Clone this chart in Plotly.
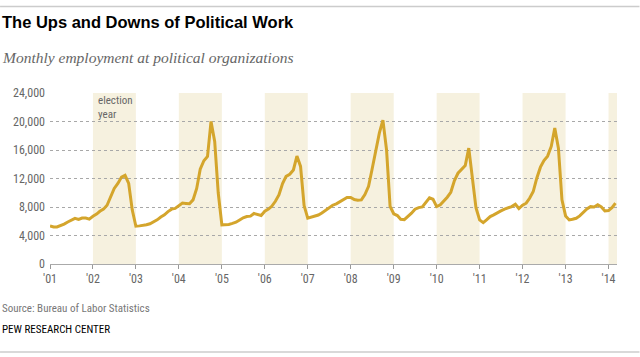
import pandas as pd
import plotly.graph_objects as go

# Monthly employment at political organizations (Jan 2001 - Mar 2014)
emp_2001 = [5350, 5200, 5200, 5350, 5600, 5900, 6150, 6400, 6250, 6450, 6450, 6300]
emp_2002 = [6700, 7000, 7400, 7700, 8250, 9400, 10600, 11300, 12200, 12450, 11300, 7600]
emp_2003 = [5300, 5350, 5400, 5500, 5650, 5900, 6200, 6600, 6900, 7350, 7700, 7800]
emp_2004 = [8150, 8550, 8500, 8450, 9000, 10600, 13300, 14500, 15100, 20000, 17200, 10000]
emp_2005 = [5500, 5520, 5560, 5700, 5860, 6180, 6490, 6660, 6720, 7090, 6950, 6800]
emp_2006 = [7400, 7700, 8100, 8800, 9700, 11300, 12300, 12600, 13200, 15150, 13700, 8200]
emp_2007 = [6430, 6600, 6780, 6870, 7170, 7520, 7850, 8250, 8450, 8750, 9050, 9350]
emp_2008 = [9350, 9050, 8950, 9000, 9750, 10900, 13300, 15800, 18400, 20200, 16000, 8100]
emp_2009 = [7050, 6800, 6280, 6230, 6660, 7130, 7690, 7920, 8010, 8620, 9280, 9090]
emp_2010 = [8060, 8300, 8760, 9370, 10070, 11710, 12740, 13310, 13830, 16260, 12300, 7900]
emp_2011 = [6200, 5810, 6190, 6660, 6890, 7220, 7450, 7690, 7870, 8060, 8390, 7780]
emp_2012 = [8250, 8530, 9230, 10170, 12040, 13590, 14530, 15140, 16500, 19070, 16260, 9000]
emp_2013 = [6750, 6190, 6280, 6420, 6750, 7220, 7730, 8050, 8000, 8300, 8000, 7450]
emp_2014 = [7500, 7950, 8550]

election_years = [2002, 2004, 2006, 2008, 2010, 2012, 2014]
tick_years = list(range(2001, 2015))
tick_labels = ["'01", "'02", "'03", "'04", "'05", "'06", "'07", "'08", "'09", "'10", "'11", "'12", "'13", "'14"]
y_ticks = [0, 4000, 8000, 12000, 16000, 20000, 24000]
y_tick_labels = ["0", "4,000", "8,000", "12,000", "16,000", "20,000", "24,000"]

values = (emp_2001 + emp_2002 + emp_2003 + emp_2004 + emp_2005 + emp_2006 + emp_2007
          + emp_2008 + emp_2009 + emp_2010 + emp_2011 + emp_2012 + emp_2013 + emp_2014)
dates = pd.date_range("2001-01-01", periods=len(values), freq="MS")

X_END = "2014-03-14"

W, H = 640, 357
ML, MR, MT, MB = 50, 22.5, 93, 93
PW = W - ML - MR
PH = H - MT - MB

def px(xp):
    return (xp - ML) / PW

def py(yp):
    return (H - MB - yp) / PH

LINE_COLOR = "#D4A52C"
SHADE = "#F6F1DF"
FONT = "Liberation Sans Narrow, Arial Narrow, Roboto Condensed, Liberation Sans, Arial, sans-serif"

fig = go.Figure()
fig.add_trace(go.Scatter(x=dates, y=values, mode="lines",
                         line=dict(color=LINE_COLOR, width=3), hoverinfo="skip"))

shapes = []
for yr in election_years:
    x1 = f"{yr + 1}-01-01" if yr < 2014 else X_END
    shapes.append(dict(type="rect", xref="x", yref="paper", x0=f"{yr}-01-01", x1=x1,
                       y0=0, y1=1, fillcolor=SHADE, line=dict(width=0), layer="below"))
# top and bottom rules
shapes.append(dict(type="line", xref="paper", yref="paper", x0=px(0), x1=px(W),
                   y0=py(6.5), y1=py(6.5), line=dict(color="#cccccc", width=1.5)))
shapes.append(dict(type="line", xref="paper", yref="paper", x0=px(0), x1=px(W),
                   y0=py(352), y1=py(352), line=dict(color="#cccccc", width=1.5)))

annotations = [
    dict(text="<b>The Ups and Downs of Political Work</b>", xref="paper", yref="paper",
         x=px(0), y=py(22), xanchor="left", yanchor="middle", showarrow=False,
         font=dict(family="Liberation Sans, Arial, sans-serif", size=16.5, color="#000")),
    dict(text="<i>Monthly employment at political organizations</i>", xref="paper", yref="paper",
         x=px(0), y=py(57), xanchor="left", yanchor="middle", showarrow=False,
         font=dict(family="Liberation Serif, Times New Roman, serif", size=15.5, color="#666")),
    dict(text="election<br>year", xref="paper", yref="paper", x=px(96), y=py(107),
         xanchor="left", yanchor="middle", showarrow=False, align="left",
         font=dict(family=FONT, size=11, color="#666")),
    dict(text="Source: Bureau of Labor Statistics", xref="paper", yref="paper",
         x=px(0), y=py(308), xanchor="left", yanchor="middle", showarrow=False,
         font=dict(family=FONT, size=11, color="#777")),
    dict(text="PEW RESEARCH CENTER", xref="paper", yref="paper",
         x=px(0), y=py(329), xanchor="left", yanchor="middle", showarrow=False,
         font=dict(family=FONT, size=11, color="#000")),
]

fig.update_layout(
    width=W, height=H, margin=dict(l=ML, r=MR, t=MT, b=MB),
    paper_bgcolor="white", plot_bgcolor="white", showlegend=False,
    shapes=shapes, annotations=annotations,
    xaxis=dict(range=["2001-01-01", X_END], tickmode="array",
               tickvals=[f"{y}-01-01" for y in tick_years], ticktext=tick_labels,
               ticks="outside", ticklen=4, tickcolor="#999", showgrid=False,
               showline=True, linecolor="#aaa", linewidth=1, zeroline=False,
               tickfont=dict(family=FONT, size=12, color="#666")),
    yaxis=dict(range=[0, 24000], tickmode="array", tickvals=y_ticks, ticktext=y_tick_labels,
               showgrid=True, gridcolor="#a8a8a8", griddash="dot", gridwidth=1,
               zeroline=False, showline=False, ticks="", ticklabelstandoff=4,
               tickfont=dict(family=FONT, size=12, color="#666")),
)

fig.write_html("out.html", config={"displayModeBar": False},
               post_script="document.body.style.margin='0';document.body.style.overflow='hidden';")
